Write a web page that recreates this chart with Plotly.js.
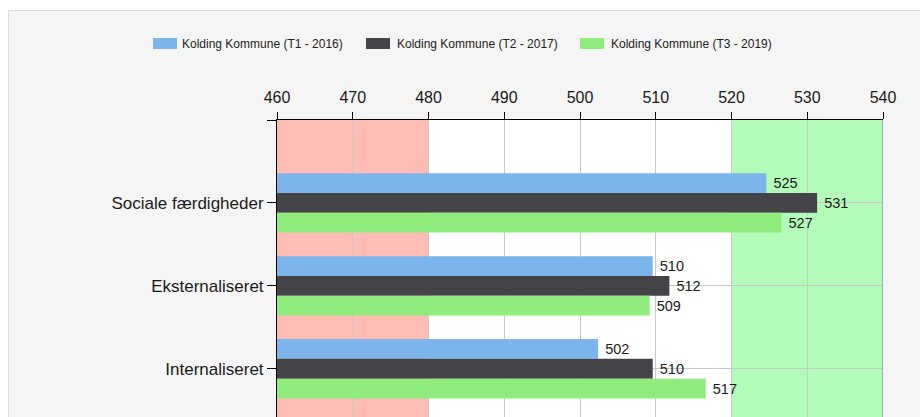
<!DOCTYPE html>
<html><head><meta charset="utf-8">
<script src="https://cdn.plot.ly/plotly-3.0.1.min.js"></script>
<style>html,body{margin:0;padding:0;background:#fff;overflow:hidden}#chart{width:920px;height:417px;}</style>
</head><body><div id="chart"></div>
<script>
const categories = ['Sociale færdigheder', 'Eksternaliseret', 'Internaliseret'];
const seriesNames = ['Kolding Kommune (T1 - 2016)', 'Kolding Kommune (T2 - 2017)', 'Kolding Kommune (T3 - 2019)'];
const t1Values = [524.6, 509.6, 502.4];
const t2Values = [531.3, 511.8, 509.6];
const t3Values = [526.6, 509.2, 516.6];
const xTickVals = [460, 470, 480, 490, 500, 510, 520, 530, 540];
const lowBand = [460, 480];
const highBand = [520, 540];

const colors = ['#7cb5ec', '#434348', '#90ed7d'];
const seriesValues = [t1Values, t2Values, t3Values];
const yPos = categories.map((c, i) => i);

const W = 920, H = 417, ML = 277, MR = 37, MT = 120, MB = 0;
const PW = W - ML - MR, PH = H - MT - MB;
const px = v => (v - ML) / PW;
const py = v => 1 - (v - MT) / PH;

const FONT = 'Liberation Sans, Arial, sans-serif';

const traces = seriesValues.map((vals, i) => ({
  type: 'bar',
  orientation: 'h',
  name: seriesNames[i],
  x: vals,
  y: yPos,
  marker: {color: colors[i], line: {width: 0}},
  texttemplate: '\u00a0%{x:.0f}',
  textposition: 'outside',
  constraintext: 'none',
  cliponaxis: false,
  textfont: {family: FONT, size: 14.5, color: '#1a1a1a'},
  hoverinfo: 'none',
  showlegend: false
}));

const shapes = [
  {type: 'rect', xref: 'paper', yref: 'paper', x0: px(8.5), x1: px(940), y0: py(440), y1: py(10.5),
   fillcolor: '#f5f5f5', line: {color: '#dcdcdc', width: 1}, layer: 'below'},
  {type: 'rect', xref: 'x', yref: 'y domain', x0: xTickVals[0], x1: xTickVals[xTickVals.length - 1], y0: 0, y1: 1,
   fillcolor: '#ffffff', line: {width: 0}, layer: 'below'},
  {type: 'rect', xref: 'x', yref: 'y domain', x0: lowBand[0], x1: lowBand[1], y0: 0, y1: 1,
   fillcolor: '#fdbdb5', line: {width: 0}, layer: 'below'},
  {type: 'rect', xref: 'x', yref: 'y domain', x0: highBand[0], x1: highBand[1], y0: 0, y1: 1,
   fillcolor: '#b3fbb8', line: {width: 0}, layer: 'below'},
  {type: 'line', xref: 'x', yref: 'y domain', x0: highBand[1], x1: highBand[1], y0: 0, y1: 1,
   line: {color: '#6d89a6', width: 1.2}, layer: 'above'}
];

const swatchX = [153, 366, 580];
const textX = [181, 396, 610];
const annotations = [];
seriesNames.forEach((n, i) => {
  shapes.push({type: 'rect', xref: 'paper', yref: 'paper', x0: px(swatchX[i]), x1: px(swatchX[i] + 24),
    y0: py(49), y1: py(38), fillcolor: colors[i], line: {width: 0}, layer: 'above'});
  annotations.push({xref: 'paper', yref: 'paper', x: px(textX[i]), y: py(43.5), xanchor: 'left', yanchor: 'middle',
    text: n, showarrow: false, borderpad: 0, font: {family: FONT, size: 12, color: '#222222'}});
});

const layout = {
  width: W, height: H,
  margin: {l: ML, r: MR, t: MT, b: MB, pad: 0},
  paper_bgcolor: '#ffffff',
  plot_bgcolor: 'rgba(0,0,0,0)',
  barmode: 'group', bargap: 0.284, bargroupgap: 0,
  showlegend: false,
  xaxis: {
    side: 'top', range: [xTickVals[0], xTickVals[xTickVals.length - 1]], tickmode: 'array', tickvals: xTickVals,
    ticks: 'outside', ticklen: 7, tickcolor: '#000000', tickwidth: 1, ticklabelstandoff: 3,
    showline: true, linecolor: '#000000', linewidth: 1,
    showgrid: true, gridcolor: '#c8c8c8', gridwidth: 1, zeroline: false,
    tickfont: {family: FONT, size: 16, color: '#1a1a1a'}, fixedrange: true
  },
  yaxis: {
    range: [2.582, -1], tickmode: 'array', tickvals: [-1].concat(yPos), ticktext: [''].concat(categories),
    ticks: 'outside', ticklen: 9, tickcolor: '#000000', tickwidth: 1,
    showline: true, linecolor: '#000000', linewidth: 1,
    showgrid: true, gridcolor: '#c8c8c8', gridwidth: 1, zeroline: false,
    tickfont: {family: FONT, size: 17, color: '#1a1a1a'}, fixedrange: true
  },
  shapes: shapes,
  annotations: annotations
};

Plotly.newPlot('chart', traces, layout, {displayModeBar: false, staticPlot: true});
</script>
</body></html>
